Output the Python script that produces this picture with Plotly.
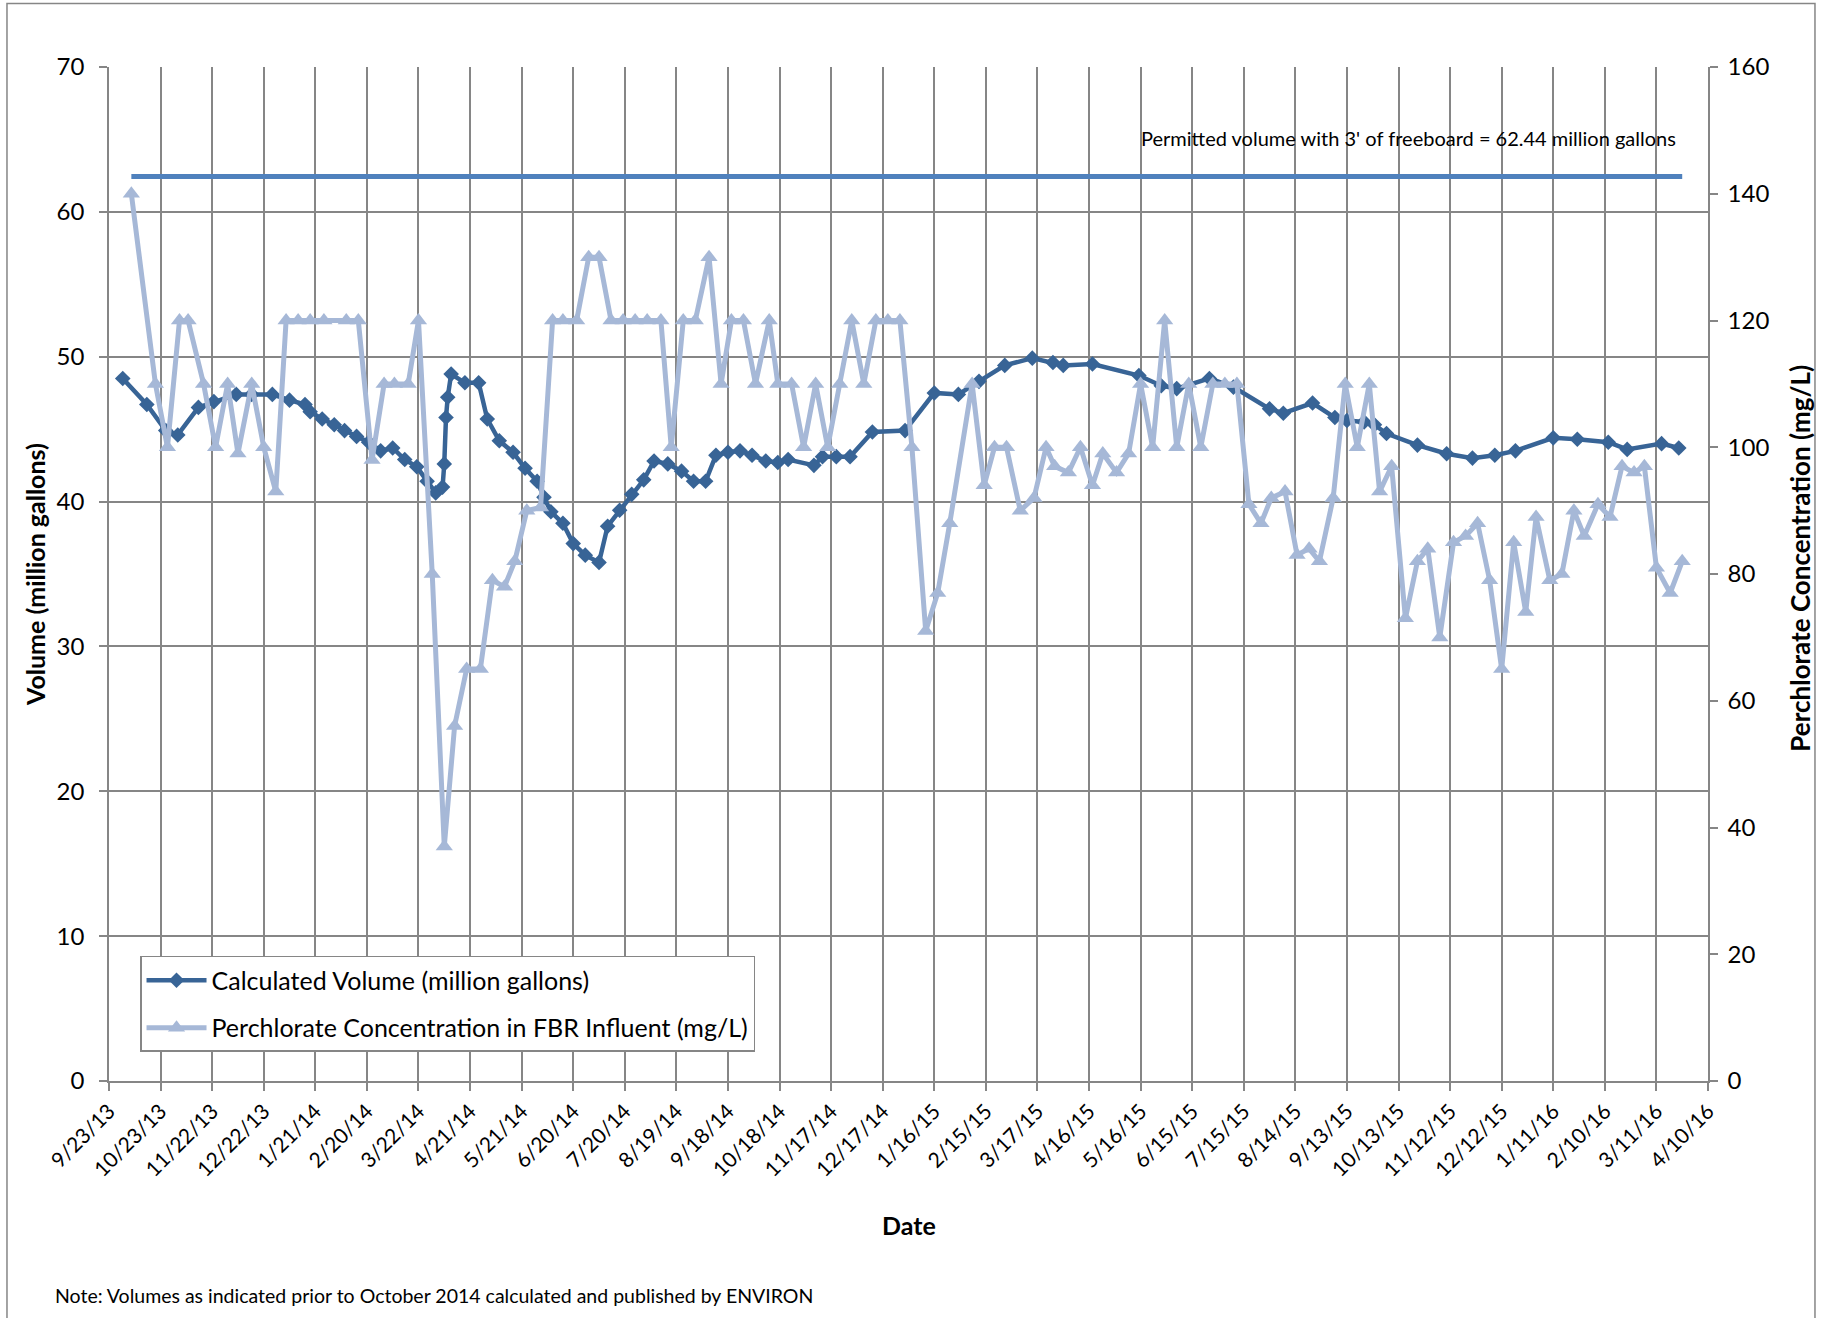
import plotly.graph_objects as go

# ---------------- data ----------------
vol_dates = [
    "2013-10-01", "2013-10-15", "2013-10-26", "2013-11-02", "2013-11-14", "2013-11-23",
    "2013-12-06", "2013-12-15", "2013-12-27", "2014-01-06", "2014-01-15", "2014-01-18",
    "2014-01-25", "2014-02-01", "2014-02-07", "2014-02-14", "2014-02-21", "2014-02-28",
    "2014-03-07", "2014-03-14", "2014-03-21", "2014-03-27", "2014-04-01", "2014-04-05",
    "2014-04-06", "2014-04-07", "2014-04-08", "2014-04-10", "2014-04-18", "2014-04-26",
    "2014-05-01", "2014-05-08", "2014-05-16", "2014-05-23", "2014-05-30", "2014-06-03",
    "2014-06-07", "2014-06-14", "2014-06-20", "2014-06-27", "2014-07-05", "2014-07-10",
    "2014-07-17", "2014-07-24", "2014-07-31", "2014-08-06", "2014-08-14", "2014-08-22",
    "2014-08-29", "2014-09-05", "2014-09-11", "2014-09-18", "2014-09-25", "2014-10-02",
    "2014-10-10", "2014-10-17", "2014-10-23", "2014-11-07", "2014-11-12", "2014-11-20",
    "2014-11-28", "2014-12-11", "2014-12-30", "2015-01-16", "2015-01-30", "2015-02-11",
    "2015-02-26", "2015-03-14", "2015-03-26", "2015-04-01", "2015-04-18", "2015-05-15",
    "2015-05-28", "2015-06-06", "2015-06-25", "2015-07-09", "2015-07-30", "2015-08-07",
    "2015-08-24", "2015-09-06", "2015-09-13", "2015-09-23", "2015-09-29", "2015-10-06",
    "2015-10-24", "2015-11-10", "2015-11-25", "2015-12-08", "2015-12-20", "2016-01-11",
    "2016-01-25", "2016-02-12", "2016-02-23", "2016-03-14", "2016-03-24",
]
vol_values = [
    48.5, 46.7, 44.9, 44.6, 46.5, 46.9,
    47.4, 47.4, 47.4, 47.0, 46.7, 46.2,
    45.7, 45.3, 44.9, 44.5, 44.1, 43.5,
    43.7, 42.9, 42.4, 41.4, 40.6, 41.0,
    42.6, 45.8, 47.2, 48.8, 48.2, 48.2,
    45.7, 44.2, 43.4, 42.3, 41.4, 40.3,
    39.3, 38.5, 37.1, 36.3, 35.8, 38.3,
    39.4, 40.5, 41.5, 42.8, 42.6, 42.1,
    41.4, 41.4, 43.2, 43.4, 43.5, 43.2,
    42.8, 42.7, 42.9, 42.5, 43.1, 43.1,
    43.1, 44.8, 44.9, 47.5, 47.4, 48.3,
    49.4, 49.9, 49.6, 49.4, 49.5, 48.7,
    48.0, 47.8, 48.5, 47.9, 46.4, 46.1,
    46.8, 45.8, 45.6, 45.5, 45.3, 44.7,
    43.9, 43.3, 43.0, 43.2, 43.5, 44.4,
    44.3, 44.1, 43.6, 44.0, 43.7,
]

perc_dates = [
    "2013-10-06", "2013-10-20", "2013-10-27", "2013-11-03", "2013-11-08", "2013-11-17",
    "2013-11-24", "2013-12-01", "2013-12-07", "2013-12-15", "2013-12-22", "2013-12-29",
    "2014-01-04", "2014-01-11", "2014-01-18", "2014-01-26", "2014-02-08", "2014-02-15",
    "2014-02-23", "2014-03-02", "2014-03-08", "2014-03-16", "2014-03-22", "2014-03-30",
    "2014-04-06", "2014-04-12", "2014-04-19", "2014-04-27", "2014-05-04", "2014-05-11",
    "2014-05-17", "2014-05-24", "2014-06-01", "2014-06-08", "2014-06-14", "2014-06-22",
    "2014-06-29", "2014-07-05", "2014-07-12", "2014-07-19", "2014-07-26", "2014-08-02",
    "2014-08-10", "2014-08-16", "2014-08-23", "2014-08-30", "2014-09-07", "2014-09-14",
    "2014-09-20", "2014-09-27", "2014-10-04", "2014-10-12", "2014-10-17", "2014-10-25",
    "2014-11-01", "2014-11-08", "2014-11-15", "2014-11-22", "2014-11-29", "2014-12-06",
    "2014-12-13", "2014-12-20", "2014-12-27", "2015-01-03", "2015-01-11", "2015-01-18",
    "2015-01-25", "2015-02-07", "2015-02-14", "2015-02-20", "2015-02-27", "2015-03-07",
    "2015-03-15", "2015-03-22", "2015-03-27", "2015-04-04", "2015-04-11", "2015-04-18",
    "2015-04-24", "2015-05-02", "2015-05-09", "2015-05-16", "2015-05-23", "2015-05-30",
    "2015-06-06", "2015-06-13", "2015-06-20", "2015-06-27", "2015-07-04", "2015-07-11",
    "2015-07-18", "2015-07-25", "2015-07-31", "2015-08-08", "2015-08-15", "2015-08-22",
    "2015-08-28", "2015-09-05", "2015-09-12", "2015-09-19", "2015-09-26", "2015-10-02",
    "2015-10-09", "2015-10-17", "2015-10-24", "2015-10-30", "2015-11-06", "2015-11-14",
    "2015-11-21", "2015-11-28", "2015-12-05", "2015-12-12", "2015-12-19", "2015-12-26",
    "2016-01-01", "2016-01-09", "2016-01-16", "2016-01-23", "2016-01-29", "2016-02-06",
    "2016-02-13", "2016-02-20", "2016-02-27", "2016-03-04", "2016-03-11", "2016-03-19",
    "2016-03-26",
]
perc_values = [
    140, 110, 100, 120, 120, 110,
    100, 110, 99, 110, 100, 93,
    120, 120, 120, 120, 120, 120,
    98, 110, 110, 110, 120, 80,
    37, 56, 65, 65, 79, 78,
    82, 90, 90.5, 120, 120, 120,
    130, 130, 120, 120, 120, 120,
    120, 100, 120, 120, 130, 110,
    120, 120, 110, 120, 110, 110,
    100, 110, 100, 110, 120, 110,
    120, 120, 120, 100, 71, 77,
    88, 110, 94, 100, 100, 90,
    92, 100, 97, 96, 100, 94,
    99, 96, 99, 110, 100, 120,
    100, 110, 100, 110, 110, 110,
    91, 88, 92, 93, 83, 84,
    82, 92, 110, 100, 110, 93,
    97, 73, 82, 84, 70, 85,
    86, 88, 79, 65, 85, 74,
    89, 79, 80, 90, 86, 91,
    89, 97, 96, 97, 81, 77,
    82,
]

permit_dates = ["2013-10-06", "2016-03-26"]
permit_values = [62.44, 62.44]

x_range = ["2013-09-23", "2016-04-10"]
vol_ticks = [0, 10, 20, 30, 40, 50, 60, 70]
perc_ticks = [0, 20, 40, 60, 80, 100, 120, 140, 160]

# ---------------- styling ----------------
FONT = "Lato, 'Liberation Sans', Arial, sans-serif"
GRID = "#868686"
C_VOL = "#386496"
C_PERC = "#A6B8D7"
C_PERMIT = "#4F81BD"

fig = go.Figure()

fig.add_trace(go.Scatter(
    x=vol_dates, y=vol_values, name="Calculated Volume (million gallons)",
    mode="lines+markers", yaxis="y", legendgroup="a",
    line=dict(color=C_VOL, width=4.5),
    marker=dict(symbol="diamond", size=12, color=C_VOL),
))
fig.add_trace(go.Scatter(
    x=perc_dates, y=perc_values, name="Perchlorate Concentration in FBR Influent (mg/L)",
    mode="lines+markers", yaxis="y2", legendgroup="b",
    line=dict(color=C_PERC, width=5),
    marker=dict(symbol="triangle-up", size=15, color=C_PERC),
))
fig.add_trace(go.Scatter(
    x=permit_dates, y=permit_values, mode="lines", yaxis="y", showlegend=False,
    line=dict(color=C_PERMIT, width=5),
    hoverinfo="skip",
))

fig.update_layout(
    width=1833, height=1318,
    margin=dict(l=109, r=125, t=67, b=237),
    paper_bgcolor="white", plot_bgcolor="white",
    font=dict(family=FONT, color="black", size=20),
    xaxis=dict(
        type="date", range=x_range, tick0=x_range[0], dtick=30 * 86400000,
        tickformat="%-m/%-d/%y", tickangle=-45, tickfont=dict(size=21),
        showgrid=True, gridcolor=GRID, gridwidth=1.5,
        showline=True, linecolor=GRID, linewidth=1.5,
        ticks="outside", ticklen=8, tickcolor=GRID, tickwidth=1.5,
        zeroline=False,
    ),
    yaxis=dict(
        range=[0, 70], tickvals=vol_ticks, tickfont=dict(size=24),
        showgrid=True, gridcolor=GRID, gridwidth=1.5,
        showline=True, linecolor=GRID, linewidth=1.5,
        ticks="outside", ticklen=8, tickcolor=GRID, tickwidth=1.5,
        ticklabelstandoff=10, zeroline=False,
    ),
    yaxis2=dict(
        range=[0, 160], tickvals=perc_ticks, tickfont=dict(size=24),
        overlaying="y", side="right", showgrid=False,
        showline=True, linecolor=GRID, linewidth=1.5,
        ticks="outside", ticklen=8, tickcolor=GRID, tickwidth=1.5,
        ticklabelstandoff=5, zeroline=False,
    ),
    legend=dict(
        x=0.0194, y=0.1233, xanchor="left", yanchor="top",
        bgcolor="white", bordercolor=GRID, borderwidth=1.5,
        font=dict(size=25, family=FONT), tracegroupgap=12,
        itemwidth=60,
    ),
    showlegend=True,
    annotations=[
        dict(text="Permitted volume with 3' of freeboard = 62.44 million gallons",
             xref="paper", yref="paper", x=0.8124, y=0.930, showarrow=False,
             font=dict(size=20), xanchor="center", yanchor="middle"),
        dict(text="<b>Volume (million gallons)</b>", xref="paper", yref="paper",
             x=-0.0463, y=0.5, textangle=-90, showarrow=False, font=dict(size=25),
             xanchor="center", yanchor="middle"),
        dict(text="<b>Perchlorate Concentration (mg/L)</b>", xref="paper", yref="paper",
             x=1.0575, y=0.516, textangle=-90, showarrow=False, font=dict(size=26),
             xanchor="center", yanchor="middle"),
        dict(text="<b>Date</b>", xref="paper", yref="paper", x=0.5, y=-0.142,
             showarrow=False, font=dict(size=25), xanchor="center", yanchor="middle"),
        dict(text="Note: Volumes as indicated prior to October 2014 calculated and published by ENVIRON",
             xref="paper", yref="paper", x=-0.0350, y=-0.2115, showarrow=False,
             font=dict(size=19.5), xanchor="left", yanchor="middle"),
    ],
    shapes=[
        dict(type="rect", xref="paper", yref="paper", x0=-0.0638, x1=1.0669,
             y0=-0.26, y1=1.0626, line=dict(color=GRID, width=1.5), layer="below"),
    ],
)

fig.write_html(
    "out.html",
    config={"displayModeBar": False},
    post_script="document.body.style.margin='0';",
)
